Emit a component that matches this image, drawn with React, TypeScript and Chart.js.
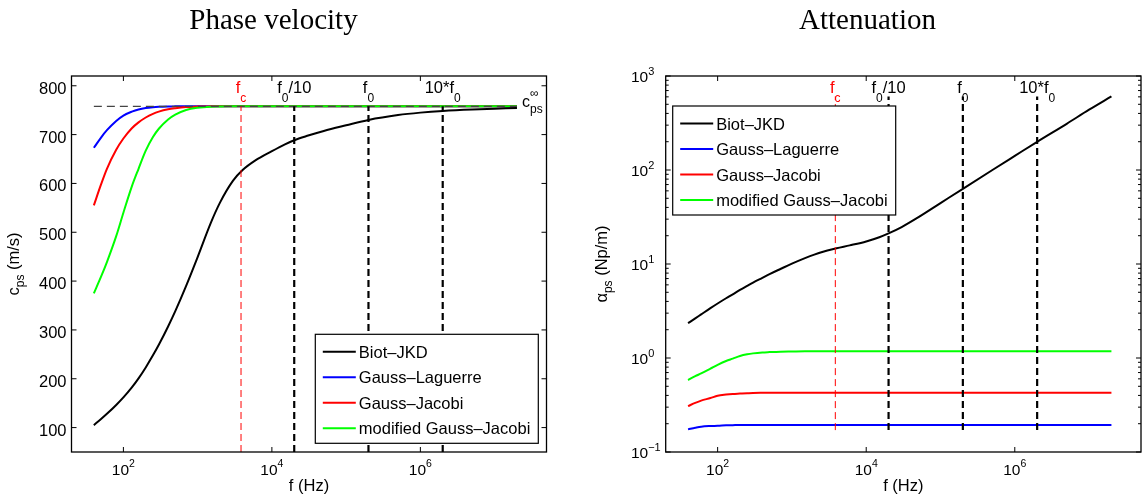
import React, { useEffect, useRef } from 'react';
import { Chart, registerables } from 'chart.js';

Chart.register(...registerables);

// ---------------- data ----------------
const freqHz = [40, 50, 60, 80, 100, 130, 160, 200, 250, 300, 400, 500, 700, 1000, 1500, 2000, 3000, 4000, 6000, 1e4, 1.5e4, 2e4, 3e4, 5e4, 1e5, 2e5, 5e5, 1e6, 2e6, 5e6, 1e7, 2e7];

const velBiotJKD = [105, 117.6, 128.3, 146.4, 161.9, 182.4, 200.9, 223.2, 247.9, 269.6, 307.1, 338.6, 390.4, 449.3, 518.8, 560.7, 605.6, 626.9, 647.1, 666, 680, 688.5, 697.5, 707.5, 719, 730, 740, 745, 748.5, 751.5, 753, 754.5];
const velGaussLaguerre = [673, 694, 709, 728, 739, 747, 751.5, 754.5, 756.2, 757, 757.6, 757.8, 758, 758, 758, 758, 758, 758, 758, 758, 758, 758, 758, 758, 758, 758, 758, 758, 758, 758, 758, 758];
const velGaussJacobi = [555, 598, 630, 669, 692, 713, 725, 735, 742.5, 747, 751.8, 754, 756.3, 757.3, 757.8, 758, 758, 758, 758, 758, 758, 758, 758, 758, 758, 758, 758, 758, 758, 758, 758, 758];
const velModifiedGaussJacobi = [375, 409, 439, 492, 540, 594, 630, 667, 695, 712, 731, 741, 750.5, 755, 757.2, 757.7, 758, 758, 758, 758, 758, 758, 758, 758, 758, 758, 758, 758, 758, 758, 758, 758];

const attBiotJKD = [2.35, 2.64, 2.91, 3.39, 3.8, 4.32, 4.76, 5.3, 5.86, 6.35, 7.13, 7.8, 8.85, 10.09, 11.56, 12.59, 13.9, 14.72, 15.78, 17.38, 19.28, 21.18, 24.72, 31.33, 44.46, 63.1, 100, 141.3, 199.5, 310, 438, 607];
const attGaussLaguerre = [0.174, 0.181, 0.186, 0.189, 0.19, 0.192, 0.193, 0.194, 0.194, 0.194, 0.194, 0.194, 0.194, 0.194, 0.194, 0.194, 0.194, 0.194, 0.194, 0.194, 0.194, 0.194, 0.194, 0.194, 0.194, 0.194, 0.194, 0.194, 0.194, 0.194, 0.194, 0.194];
const attGaussJacobi = [0.308, 0.333, 0.352, 0.375, 0.397, 0.408, 0.414, 0.418, 0.422, 0.425, 0.427, 0.428, 0.428, 0.428, 0.428, 0.428, 0.428, 0.428, 0.428, 0.428, 0.428, 0.428, 0.428, 0.428, 0.428, 0.428, 0.428, 0.428, 0.428, 0.428, 0.428, 0.428];
const attModifiedGaussJacobi = [0.583, 0.64, 0.685, 0.77, 0.845, 0.93, 0.985, 1.05, 1.095, 1.12, 1.145, 1.155, 1.167, 1.172, 1.177, 1.177, 1.177, 1.177, 1.177, 1.177, 1.177, 1.177, 1.177, 1.177, 1.177, 1.177, 1.177, 1.177, 1.177, 1.177, 1.177, 1.177];

const seriesNames = ['Biot–JKD', 'Gauss–Laguerre', 'Gauss–Jacobi', 'modified Gauss–Jacobi'];
const seriesColors = ['#000000', '#0000ff', '#ff0000', '#00ff00'];

const markerFreqs = [3840, 2e4, 2e5, 2e6];
const markerMain = ['f', 'f', 'f', '10*f'];
const markerSub = ['c', '0', '0', '0'];
const markerTail = ['', '/10', '', ''];
const markerColors = ['#ff0000', '#000000', '#000000', '#000000'];

const cInfinity = 758;
const velLineRange = [50, 758];
const attLineRange = [0.171, 607];

const freqTicks = [1e2, 1e4, 1e6];
const velTicks = [100, 200, 300, 400, 500, 600, 700, 800];
const attTicks = [0.1, 1, 10, 100, 1000];
const freqRange = [20, 5e7];
const velRange = [50, 820];
const attRange = [0.1, 1000];

// ---------------- drawing helpers ----------------
const SANS = '"Liberation Sans", Arial, Helvetica, sans-serif';
const SERIF = '"Liberation Serif", "Times New Roman", serif';

type Part = { s: string; size: number; dy: number };

function richWidth(ctx: CanvasRenderingContext2D, parts: Part[]) {
  let w = 0;
  for (const p of parts) {
    ctx.font = `${p.size}px ${SANS}`;
    w += ctx.measureText(p.s).width;
  }
  return w;
}

function drawRich(ctx: CanvasRenderingContext2D, parts: Part[], x: number, y: number, color: string) {
  let cx = x;
  ctx.fillStyle = color;
  ctx.textAlign = 'left';
  ctx.textBaseline = 'alphabetic';
  for (const p of parts) {
    ctx.font = `${p.size}px ${SANS}`;
    ctx.fillText(p.s, cx, y + p.dy);
    cx += ctx.measureText(p.s).width;
  }
  return cx - x;
}

type Panel = {
  title: string;
  titleCx: number;
  padding: { left: number; right: number; top: number; bottom: number };
  yLog: boolean;
  yRange: number[];
  yTicks: number[];
  series: number[][];
  lineRange: number[];
  legendPos: (a: any) => { x: number; y: number };
  yTitle: Part[];
  yTitleX: number;
  asymptote: boolean;
};

function framePlugin(p: Panel) {
  return {
    id: 'frame',
    afterDraw(chart: any) {
      const ctx: CanvasRenderingContext2D = chart.ctx;
      const a = chart.chartArea;
      const xs = chart.scales.x;
      const ys = chart.scales.y;
      ctx.save();
      ctx.setLineDash([]);

      // marker labels above the vertical lines
      const lblBase = a.top + 16.5;
      markerFreqs.forEach((f, i) => {
        const parts: Part[] = [
          { s: markerMain[i], size: 16.5, dy: 0 },
          { s: markerSub[i], size: 12, dy: 9 },
        ];
        if (markerTail[i]) parts.push({ s: markerTail[i], size: 16.5, dy: 0 });
        const px = xs.getPixelForValue(f);
        const w = richWidth(ctx, parts);
        drawRich(ctx, parts, px - w / 2, lblBase, markerColors[i]);
      });

      // asymptote label c_ps^inf
      if (p.asymptote) {
        const px = xs.getPixelForValue(freqHz[freqHz.length - 1]) + 5;
        const py = ys.getPixelForValue(cInfinity);
        ctx.fillStyle = '#000';
        ctx.textAlign = 'left';
        ctx.textBaseline = 'alphabetic';
        ctx.font = `16px ${SANS}`;
        ctx.fillText('c', px, py + 1);
        const cw = ctx.measureText('c').width;
        ctx.font = `12px ${SANS}`;
        ctx.fillText('∞', px + cw, py - 9);
        ctx.fillText('ps', px + cw, py + 7);
      }

      // legend
      const lg = p.legendPos(a);
      const lw = 223, lh = 109;
      ctx.fillStyle = '#ffffff';
      ctx.fillRect(lg.x, lg.y, lw, lh);
      ctx.strokeStyle = '#000';
      ctx.lineWidth = 1.2;
      ctx.strokeRect(lg.x, lg.y, lw, lh);
      seriesNames.forEach((name, i) => {
        const cy = lg.y + 17.5 + i * 25.5;
        ctx.strokeStyle = seriesColors[i];
        ctx.lineWidth = 2;
        ctx.beginPath();
        ctx.moveTo(lg.x + 7.5, cy);
        ctx.lineTo(lg.x + 40.5, cy);
        ctx.stroke();
        ctx.fillStyle = '#000';
        ctx.font = `16.5px ${SANS}`;
        ctx.textAlign = 'left';
        ctx.textBaseline = 'alphabetic';
        ctx.fillText(name, lg.x + 43.5, cy + 6);
      });

      // axes box
      ctx.strokeStyle = '#000';
      ctx.lineWidth = 1.3;
      ctx.strokeRect(a.left, a.top, a.right - a.left, a.bottom - a.top);

      // x ticks (inward, top and bottom) + labels
      ctx.lineWidth = 1;
      for (const v of freqTicks) {
        const px = xs.getPixelForValue(v);
        ctx.beginPath();
        ctx.moveTo(px, a.bottom);
        ctx.lineTo(px, a.bottom - 5);
        ctx.moveTo(px, a.top);
        ctx.lineTo(px, a.top + 5);
        ctx.stroke();
        const e = Math.round(Math.log10(v));
        const parts: Part[] = [
          { s: '10', size: 15.5, dy: 0 },
          { s: String(e), size: 10.5, dy: -8.3 },
        ];
        const w = richWidth(ctx, parts);
        drawRich(ctx, parts, px - w / 2, a.bottom + 23, '#000');
      }

      // y ticks
      for (const v of p.yTicks) {
        const py = ys.getPixelForValue(v);
        ctx.beginPath();
        ctx.moveTo(a.left, py);
        ctx.lineTo(a.left + 5, py);
        ctx.moveTo(a.right, py);
        ctx.lineTo(a.right - 5, py);
        ctx.stroke();
        if (p.yLog) {
          const e = Math.round(Math.log10(v));
          ctx.fillStyle = '#000';
          ctx.font = `15.5px ${SANS}`;
          ctx.textAlign = 'right';
          ctx.textBaseline = 'alphabetic';
          const bx = a.left - 17.5;
          ctx.fillText('10', bx, py + 5.8);
          ctx.font = `11px ${SANS}`;
          ctx.textAlign = 'left';
          ctx.fillText(e < 0 ? '−' + String(-e) : String(e), bx, py - 0.6);
        } else {
          ctx.fillStyle = '#000';
          ctx.font = `16.5px ${SANS}`;
          ctx.textAlign = 'right';
          ctx.textBaseline = 'alphabetic';
          ctx.fillText(String(v), a.left - 5, py + 8);
        }
      }
      if (p.yLog) {
        for (let d = Math.round(Math.log10(p.yRange[0])); d < Math.round(Math.log10(p.yRange[1])); d++) {
          for (let m = 2; m <= 9; m++) {
            const py = ys.getPixelForValue(m * Math.pow(10, d));
            ctx.beginPath();
            ctx.moveTo(a.left, py);
            ctx.lineTo(a.left + 3, py);
            ctx.moveTo(a.right, py);
            ctx.lineTo(a.right - 3, py);
            ctx.stroke();
          }
        }
      }

      // x axis title
      const xt: Part[] = [{ s: 'f (Hz)', size: 16.5, dy: 0 }];
      const xw = richWidth(ctx, xt);
      drawRich(ctx, xt, (a.left + a.right) / 2 - xw / 2, a.bottom + 39, '#000');

      // y axis title (rotated)
      ctx.save();
      ctx.translate(p.yTitleX, (a.top + a.bottom) / 2);
      ctx.rotate(-Math.PI / 2);
      const yw = richWidth(ctx, p.yTitle);
      drawRich(ctx, p.yTitle, -yw / 2, 0, '#000');
      ctx.restore();

      // panel title
      ctx.fillStyle = '#000';
      ctx.font = `29px ${SERIF}`;
      ctx.textAlign = 'center';
      ctx.textBaseline = 'alphabetic';
      ctx.fillText(p.title, p.titleCx, 28.5);

      ctx.restore();
    },
  };
}

function buildChart(canvas: HTMLCanvasElement, p: Panel) {
  const pts = (vals: number[]) => freqHz.map((f, i) => ({ x: f, y: vals[i] }));
  const curveOrder = [1, 4, 3, 2];
  const datasets: any[] = p.series.map((vals, i) => ({
    label: seriesNames[i],
    data: pts(vals),
    borderColor: seriesColors[i],
    backgroundColor: seriesColors[i],
    borderWidth: 2,
    pointRadius: 0,
    fill: false,
    cubicInterpolationMode: 'monotone',
    order: curveOrder[i],
  }));
  markerFreqs.forEach((f, i) => {
    datasets.push({
      label: 'marker ' + i,
      data: [
        { x: f, y: p.lineRange[0] },
        { x: f, y: p.lineRange[1] },
      ],
      borderColor: markerColors[i],
      borderWidth: i === 0 ? 1 : 2.2,
      borderDash: [7, 4],
      pointRadius: 0,
      fill: false,
      order: 0,
    });
  });
  if (p.asymptote) {
    datasets.push({
      label: 'c_ps infinity',
      data: [
        { x: freqHz[0], y: cInfinity },
        { x: freqHz[freqHz.length - 1], y: cInfinity },
      ],
      borderColor: '#444444',
      borderWidth: 1.2,
      borderDash: [8, 5],
      pointRadius: 0,
      fill: false,
      order: 0,
    });
  }
  return new Chart(canvas, {
    type: 'line',
    data: { datasets },
    options: {
      animation: false,
      responsive: false,
      devicePixelRatio: 1,
      events: [],
      layout: { padding: p.padding },
      plugins: {
        legend: { display: false },
        tooltip: { enabled: false },
        title: { display: false },
      },
      scales: {
        x: { type: 'logarithmic', min: freqRange[0], max: freqRange[1], display: false },
        y: p.yLog
          ? { type: 'logarithmic', min: p.yRange[0], max: p.yRange[1], display: false }
          : { type: 'linear', min: p.yRange[0], max: p.yRange[1], display: false },
      },
    } as any,
    plugins: [framePlugin(p)],
  });
}

const leftPanel: Panel = {
  title: 'Phase velocity',
  titleCx: 273.5,
  padding: { left: 71.5, right: 25.5, top: 76, bottom: 52 },
  yLog: false,
  yRange: velRange,
  yTicks: velTicks,
  series: [velBiotJKD, velGaussLaguerre, velGaussJacobi, velModifiedGaussJacobi],
  lineRange: velLineRange,
  legendPos: (a) => ({ x: a.right - 8.2 - 223, y: a.bottom - 8.7 - 109 }),
  yTitle: [
    { s: 'c', size: 16.5, dy: 0 },
    { s: 'ps', size: 12, dy: 5 },
    { s: ' (m/s)', size: 16.5, dy: 0 },
  ],
  yTitleX: 19,
  asymptote: true,
};

const rightPanel: Panel = {
  title: 'Attenuation',
  titleCx: 295.5,
  padding: { left: 93.7, right: 3, top: 76, bottom: 52 },
  yLog: true,
  yRange: attRange,
  yTicks: attTicks,
  series: [attBiotJKD, attGaussLaguerre, attGaussJacobi, attModifiedGaussJacobi],
  lineRange: attLineRange,
  legendPos: (a) => ({ x: a.left + 7, y: a.top + 30 }),
  yTitle: [
    { s: 'α', size: 16.5, dy: 0 },
    { s: 'ps', size: 12, dy: 5 },
    { s: ' (Np/m)', size: 16.5, dy: 0 },
  ],
  yTitleX: 35,
  asymptote: false,
};

export default function App() {
  const leftRef = useRef<HTMLCanvasElement | null>(null);
  const rightRef = useRef<HTMLCanvasElement | null>(null);

  useEffect(() => {
    const charts: Chart[] = [];
    if (leftRef.current) charts.push(buildChart(leftRef.current, leftPanel));
    if (rightRef.current) charts.push(buildChart(rightRef.current, rightPanel));
    return () => charts.forEach((c) => c.destroy());
  }, []);

  return (
    <div style={{ position: 'absolute', left: 0, top: 0, width: 1144, height: 504, background: '#ffffff', overflow: 'hidden' }}>
      <canvas ref={leftRef} width={572} height={504} style={{ position: 'absolute', left: 0, top: 0, width: 572, height: 504 }} />
      <canvas ref={rightRef} width={572} height={504} style={{ position: 'absolute', left: 572, top: 0, width: 572, height: 504 }} />
    </div>
  );
}
